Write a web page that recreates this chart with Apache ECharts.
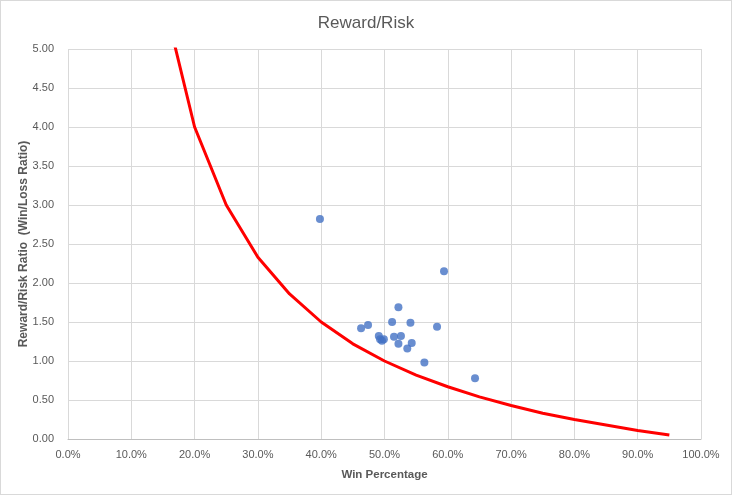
<!DOCTYPE html>
<html>
<head>
<meta charset="utf-8">
<script src="https://cdn.jsdelivr.net/npm/echarts@6/dist/echarts.min.js"></script>
<style>
  html, body { margin: 0; padding: 0; background: #fff; }
  #chart { width: 732px; height: 495px; box-sizing: border-box; border: 1px solid #d9d9d9; }
</style>
</head>
<body>
<div id="chart"></div>
<script>
// breakeven curve (win % -> reward/risk ratio)
const curveX = [15, 20, 25, 30, 35, 40, 45, 50, 55, 60, 65, 70, 75, 80, 85, 90, 95];
const curveY = [5.67, 4.00, 3.00, 2.33, 1.86, 1.50, 1.22, 1.00, 0.82, 0.67, 0.54, 0.43, 0.33, 0.25, 0.18, 0.11, 0.05];

// observed results
const winPct = [39.8, 59.4, 52.2, 46.3, 47.4, 51.2, 54.1, 58.3, 49.1, 49.3, 49.9, 49.6, 51.5, 52.6, 52.2, 54.3, 53.6, 56.3, 64.3];
const ratio  = [2.82, 2.15, 1.69, 1.42, 1.46, 1.50, 1.49, 1.44, 1.32, 1.28, 1.28, 1.26, 1.31, 1.32, 1.22, 1.23, 1.16, 0.98, 0.78];

const FONT = 'Liberation Sans';
const GREY = '#595959';

const chart = echarts.init(document.getElementById('chart'));
chart.setOption({
  animation: false,
  textStyle: { fontFamily: FONT },
  title: {
    text: 'Reward/Risk',
    left: 'center',
    top: 9,
    textStyle: { fontFamily: FONT, fontSize: 17, fontWeight: 'normal', color: GREY }
  },
  grid: { left: 67, right: 30, top: 48, bottom: 55 },
  xAxis: {
    type: 'value',
    min: 0,
    max: 100,
    interval: 10,
    name: 'Win Percentage',
    nameLocation: 'middle',
    nameGap: 30,
    nameMoveOverlap: false,
    nameTextStyle: { fontFamily: FONT, fontSize: 11.5, fontWeight: 'bold', color: GREY },
    axisLine: { show: true, lineStyle: { color: '#bfbfbf' } },
    axisTick: { show: false },
    axisLabel: {
      color: GREY, fontSize: 11, margin: 10,
      formatter: v => v.toFixed(1) + '%'
    },
    splitLine: { show: true, lineStyle: { color: '#d9d9d9' } }
  },
  yAxis: {
    type: 'value',
    min: 0,
    max: 5,
    interval: 0.5,
    name: 'Reward/Risk Ratio  (Win/Loss Ratio)',
    nameLocation: 'middle',
    nameGap: 38,
    nameMoveOverlap: false,
    nameTextStyle: { fontFamily: FONT, fontSize: 12, fontWeight: 'bold', color: GREY },
    axisLine: { show: false },
    axisTick: { show: false },
    axisLabel: {
      color: GREY, fontSize: 11, margin: 14,
      formatter: v => v.toFixed(2)
    },
    splitLine: { show: true, lineStyle: { color: '#d9d9d9' } }
  },
  series: [
    {
      type: 'line',
      data: curveX.map((x, i) => [x, curveY[i]]),
      showSymbol: false,
      symbol: 'none',
      clip: true,
      lineStyle: { color: '#ff0000', width: 3 },
      z: 2
    },
    {
      type: 'scatter',
      data: winPct.map((x, i) => [x, ratio[i]]),
      symbolSize: 8,
      itemStyle: { color: '#4472c4' },
      z: 3
    }
  ]
});
</script>
</body>
</html>
